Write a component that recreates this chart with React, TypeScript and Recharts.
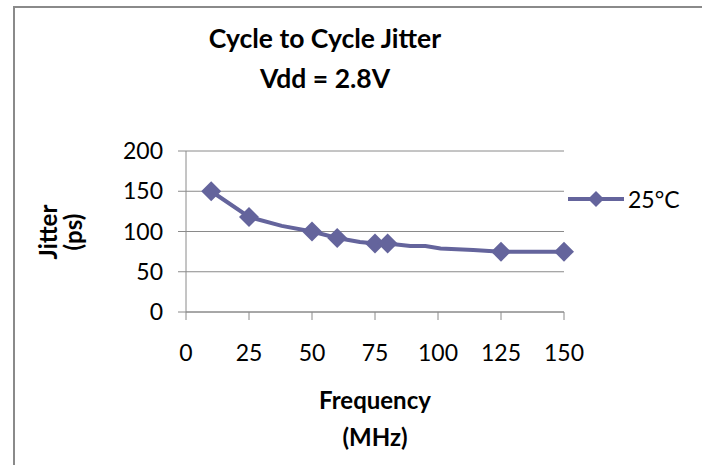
import { LineChart, Line, XAxis, YAxis, CartesianGrid } from 'recharts';

const freq = [10, 25, 38, 50, 60, 69, 75, 80, 89, 95, 101, 114, 125, 150];
const jitter = [150, 118, 107, 100, 92, 87, 85, 85, 82, 82, 79, 77, 75, 75];
const marked = [true, true, false, true, true, false, true, true, false, false, false, false, true, true];
const xTicks = [0, 25, 50, 75, 100, 125, 150];
const yTicks = [0, 50, 100, 150, 200];
const seriesName = '25°C';

const data = freq.map((f, i) => ({ freq: f, jitter: jitter[i], marked: marked[i] }));

const COLOR = '#64649c';
const FONT = 'Lato, "Open Sans", sans-serif';

function Diamond(props: any) {
  const { cx, cy, payload } = props;
  if (!payload?.marked || cx == null) return null;
  const r = 10;
  return <path d={`M${cx},${cy - r}L${cx + r},${cy}L${cx},${cy + r}L${cx - r},${cy}Z`} fill={COLOR} />;
}

export default function App() {
  const tick = { fontSize: 23, fill: '#000', fontFamily: FONT };
  const title: React.CSSProperties = { position: 'absolute', fontFamily: FONT, fontWeight: 700, color: '#000', textAlign: 'center' };
  return (
    <div style={{ position: 'absolute', left: 0, top: 0, width: 702, height: 465, background: '#fff', overflow: 'hidden' }}>
      <div style={{ position: 'absolute', left: 13, top: 6, width: 702, height: 470, borderLeft: '2px solid #8a8a8a', borderTop: '2px solid #8a8a8a' }} />
      <LineChart width={702} height={465} data={data} margin={{ top: 151, right: 138, left: 94, bottom: 113 }} style={{ position: 'absolute', left: 0, top: 0 }}>
        <CartesianGrid horizontal vertical={false} stroke="#8a8a8a" />
        <XAxis
          dataKey="freq"
          type="number"
          domain={[0, 150]}
          ticks={xTicks}
          height={40}
          stroke="#8a8a8a"
          tickSize={8}
          tickMargin={25}
          tick={tick}
          interval={0}
        />
        <YAxis
          domain={[0, 200]}
          ticks={yTicks}
          width={92}
          stroke="#8a8a8a"
          tickSize={8}
          tickMargin={15}
          tick={tick}
          interval={0}
        />
        <Line
          type="linear"
          dataKey="jitter"
          name={seriesName}
          stroke={COLOR}
          strokeWidth={4}
          dot={<Diamond />}
          activeDot={false}
          isAnimationActive={false}
        />
      </LineChart>
      <div style={{ position: 'absolute', left: 568, top: 185, display: 'flex', alignItems: 'center', fontFamily: FONT, fontSize: 23, color: '#000' }}>
        <svg width={56} height={24}>
          <line x1={0} y1={12} x2={56} y2={12} stroke={COLOR} strokeWidth={4} />
          <path d="M28,4L36,12L28,20L20,12Z" fill={COLOR} />
        </svg>
        <span style={{ marginLeft: 4 }}>{seriesName}</span>
      </div>
      <div style={{ ...title, left: 125, top: 18, width: 400, fontSize: 26.5, lineHeight: '40px' }}>
        Cycle to Cycle Jitter
        <br />
        Vdd = 2.8V
      </div>
      <div style={{ ...title, left: 275, top: 381, width: 200, fontSize: 24, lineHeight: '37px' }}>
        Frequency
        <br />
        (MHz)
      </div>
      <div style={{ ...title, left: 0, top: 207, width: 120, fontSize: 24, lineHeight: '25px', transform: 'rotate(-90deg)' }}>
        Jitter
        <br />
        (ps)
      </div>
    </div>
  );
}
